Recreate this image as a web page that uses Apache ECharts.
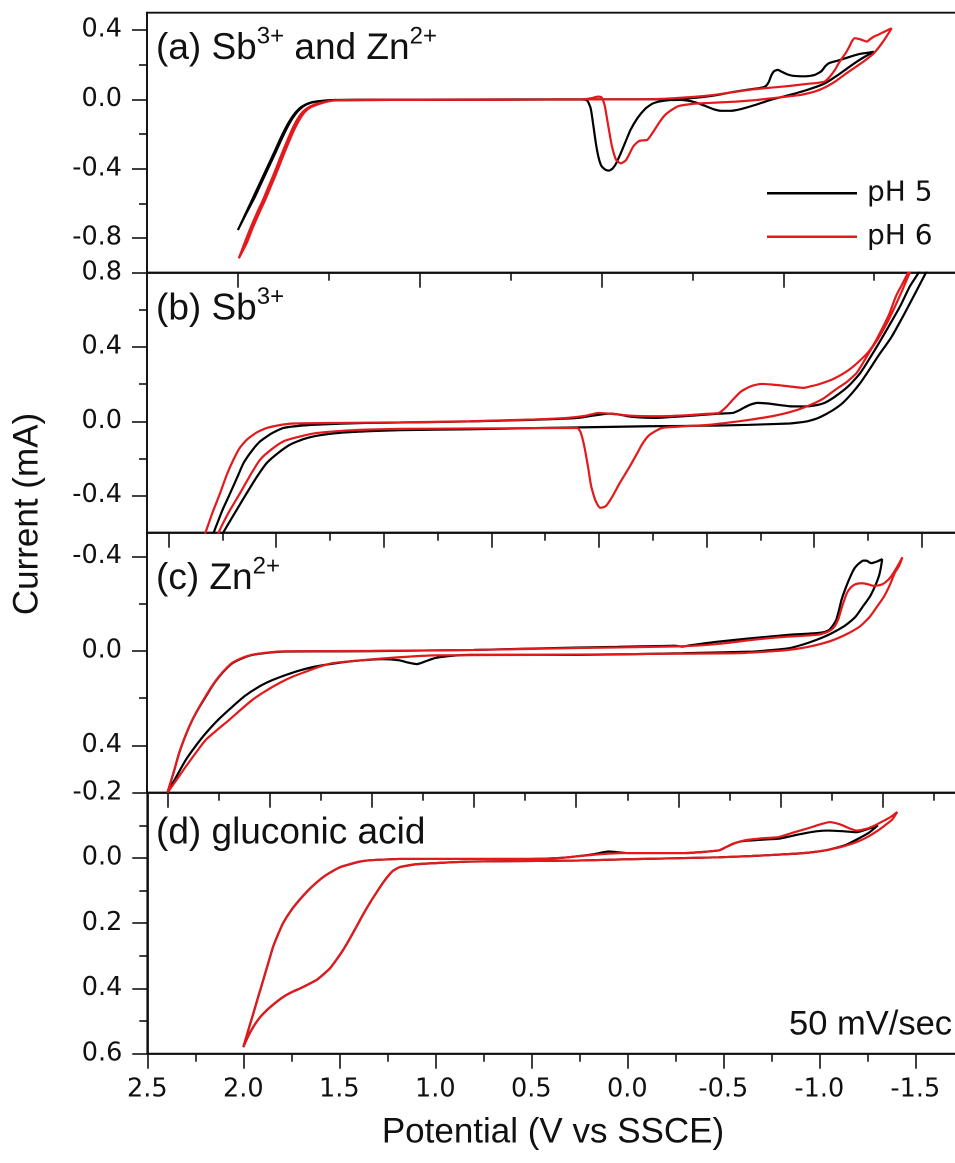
<!DOCTYPE html>
<html>
<head>
<meta charset="utf-8">
<title>Cyclic voltammograms</title>
<script src="https://cdn.jsdelivr.net/npm/echarts@6/dist/echarts.min.js"></script>
<style>
  html, body { margin: 0; padding: 0; background: #ffffff; }
  #chart { width: 955px; height: 1163px; }
</style>
</head>
<body>
<div id="chart"></div>
<script>
// ---- Cyclic voltammograms, potential in V vs SSCE, current in mA ----

// (a) Sb3+ and Zn2+
const cvA_pH5 = [
  [2.00,-0.754],[1.96,-0.665],[1.92,-0.575],[1.88,-0.485],[1.84,-0.395],[1.80,-0.305],[1.77,-0.235],[1.74,-0.170],
  [1.71,-0.115],[1.68,-0.072],[1.65,-0.043],[1.61,-0.022],[1.56,-0.011],[1.48,-0.006],[1.30,-0.004],[1.00,-0.003],
  [0.60,-0.002],[0.30,-0.001],[0.12,-0.001],[0.08,-0.006],[0.06,-0.05],[0.045,-0.15],[0.03,-0.26],[0.015,-0.34],
  [0.00,-0.385],[-0.02,-0.405],[-0.04,-0.411],[-0.06,-0.40],[-0.08,-0.37],[-0.10,-0.325],[-0.13,-0.25],[-0.16,-0.175],
  [-0.20,-0.105],[-0.24,-0.055],[-0.28,-0.025],[-0.32,-0.012],[-0.38,-0.004],[-0.43,-0.003],[-0.48,-0.008],[-0.53,-0.022],
  [-0.58,-0.042],[-0.62,-0.058],[-0.66,-0.066],[-0.71,-0.066],[-0.77,-0.055],[-0.84,-0.034],[-0.93,-0.003],[-1.03,0.024],
  [-1.13,0.054],[-1.23,0.093],[-1.30,0.140],[-1.36,0.185],[-1.42,0.228],[-1.46,0.253],[-1.498,0.275],
  [-1.47,0.270],[-1.42,0.262],[-1.37,0.247],[-1.32,0.230],[-1.28,0.218],[-1.25,0.208],[-1.23,0.19],[-1.21,0.163],
  [-1.17,0.14],[-1.12,0.133],[-1.06,0.135],[-1.02,0.145],[-0.99,0.16],[-0.97,0.17],[-0.95,0.163],[-0.935,0.14],
  [-0.92,0.10],[-0.905,0.078],[-0.88,0.067],[-0.80,0.055],[-0.72,0.042],[-0.64,0.026],[-0.56,0.014],[-0.48,0.006],
  [-0.38,0.002],[-0.20,0.000],[0.10,0.000],[0.50,0.000],[1.00,-0.001],[1.35,-0.002],[1.49,-0.004],[1.55,-0.010],
  [1.60,-0.020],[1.64,-0.040],[1.67,-0.068],[1.70,-0.110],[1.73,-0.165],[1.76,-0.23],[1.79,-0.30],[1.83,-0.39],
  [1.87,-0.48],[1.91,-0.57],[1.955,-0.66],[2.00,-0.754]
];
const cvA_pH6 = [
  [1.995,-0.917],[1.962,-0.825],[1.93,-0.74],[1.895,-0.655],[1.862,-0.58],[1.83,-0.50],[1.80,-0.425],[1.775,-0.358],
  [1.75,-0.292],[1.722,-0.222],[1.697,-0.162],[1.67,-0.11],[1.642,-0.071],[1.61,-0.045],[1.569,-0.027],[1.52,-0.014],
  [1.477,-0.007],[1.30,-0.004],[1.00,-0.003],[0.60,-0.002],[0.30,-0.001],[0.10,0.000],[0.05,0.008],[0.02,0.016],
  [0.00,0.012],[-0.01,-0.01],[-0.019,-0.042],[-0.038,-0.158],[-0.058,-0.273],[-0.081,-0.35],[-0.106,-0.369],[-0.135,-0.35],
  [-0.174,-0.273],[-0.20,-0.245],[-0.213,-0.238],[-0.24,-0.236],[-0.252,-0.234],[-0.27,-0.21],[-0.291,-0.177],[-0.32,-0.13],
  [-0.35,-0.09],[-0.39,-0.058],[-0.427,-0.038],[-0.50,-0.026],[-0.545,-0.023],[-0.64,-0.018],[-0.739,-0.013],[-0.85,-0.004],
  [-0.934,0.006],[-1.01,0.015],[-1.09,0.025],[-1.14,0.036],[-1.187,0.05],[-1.24,0.075],[-1.284,0.102],[-1.34,0.145],
  [-1.401,0.189],[-1.45,0.225],[-1.498,0.266],[-1.55,0.335],[-1.596,0.41],
  [-1.557,0.391],[-1.52,0.372],[-1.498,0.362],[-1.475,0.345],[-1.46,0.333],[-1.44,0.34],[-1.421,0.347],[-1.392,0.353],
  [-1.375,0.33],[-1.363,0.304],[-1.345,0.27],[-1.323,0.237],[-1.30,0.20],[-1.284,0.17],[-1.255,0.13],[-1.226,0.102],
  [-1.18,0.094],[-1.128,0.089],[-1.031,0.077],[-0.937,0.068],[-0.837,0.058],[-0.74,0.044],[-0.642,0.029],[-0.55,0.018],
  [-0.447,0.01],[-0.35,0.004],[-0.252,0.000],[0.00,0.000],[0.50,-0.001],[1.00,-0.002],[1.35,-0.003],[1.465,-0.006],
  [1.51,-0.013],[1.555,-0.027],[1.60,-0.046],[1.63,-0.071],[1.657,-0.11],[1.684,-0.162],[1.71,-0.222],[1.738,-0.292],
  [1.763,-0.358],[1.788,-0.425],[1.818,-0.50],[1.85,-0.58],[1.883,-0.655],[1.918,-0.74],[1.95,-0.825],[1.995,-0.917]
];

// (b) Sb3+
const cvB_pH5 = [
  [1.845,-0.75],[1.791,-0.601],[1.75,-0.48],[1.713,-0.386],[1.68,-0.30],[1.651,-0.224],[1.61,-0.155],[1.574,-0.108],
  [1.52,-0.065],[1.466,-0.036],[1.39,-0.024],[1.31,-0.018],[1.20,-0.013],[1.078,-0.009],[0.923,-0.007],[0.60,-0.001],
  [0.30,0.008],[0.20,0.012],[0.10,0.018],[0.03,0.03],[-0.047,0.041],[-0.10,0.035],[-0.14,0.026],[-0.20,0.02],
  [-0.26,0.018],[-0.39,0.027],[-0.48,0.034],[-0.557,0.041],[-0.623,0.045],[-0.65,0.058],[-0.672,0.072],[-0.70,0.088],
  [-0.738,0.099],[-0.77,0.097],[-0.804,0.093],[-0.886,0.081],[-0.95,0.08],[-1.001,0.085],[-1.05,0.10],[-1.10,0.135],
  [-1.16,0.19],[-1.215,0.261],[-1.28,0.38],[-1.347,0.512],[-1.40,0.62],[-1.445,0.727],[-1.487,0.802],[-1.54,0.90],
  [-1.565,0.90],[-1.519,0.799],[-1.47,0.69],[-1.413,0.565],[-1.36,0.455],[-1.297,0.35],[-1.255,0.275],[-1.215,0.207],
  [-1.175,0.15],[-1.133,0.099],[-1.09,0.062],[-1.051,0.036],[-1.01,0.014],[-0.968,0.000],[-0.92,-0.008],[-0.886,-0.012],
  [-0.70,-0.019],[-0.557,-0.023],[-0.228,-0.027],[0.265,-0.036],[0.60,-0.043],[0.923,-0.048],[1.078,-0.054],[1.20,-0.062],
  [1.295,-0.075],[1.37,-0.095],[1.434,-0.125],[1.49,-0.17],[1.543,-0.224],[1.59,-0.30],[1.636,-0.386],[1.69,-0.49],
  [1.747,-0.601],[1.824,-0.75]
];
const cvB_pH6 = [
  [1.877,-0.75],[1.829,-0.601],[1.795,-0.49],[1.76,-0.386],[1.73,-0.29],[1.698,-0.206],[1.67,-0.145],[1.636,-0.099],
  [1.59,-0.06],[1.543,-0.036],[1.48,-0.02],[1.419,-0.012],[1.233,-0.009],[0.923,-0.006],[0.60,0.000],[0.30,0.01],
  [0.15,0.018],[0.06,0.03],[0.002,0.045],[-0.06,0.04],[-0.15,0.03],[-0.261,0.027],[-0.40,0.032],[-0.50,0.04],
  [-0.557,0.045],[-0.59,0.075],[-0.623,0.117],[-0.66,0.16],[-0.705,0.188],[-0.754,0.201],[-0.80,0.198],[-0.853,0.192],
  [-0.952,0.18],[-0.99,0.19],[-1.018,0.198],[-1.084,0.225],[-1.14,0.26],[-1.183,0.296],[-1.248,0.368],[-1.28,0.42],
  [-1.314,0.494],[-1.35,0.58],[-1.38,0.673],[-1.41,0.74],[-1.437,0.802],[-1.485,0.92],
  [-1.49,0.92],[-1.445,0.802],[-1.40,0.68],[-1.347,0.548],[-1.30,0.45],[-1.264,0.386],[-1.23,0.32],[-1.198,0.261],
  [-1.15,0.21],[-1.10,0.171],[-1.04,0.12],[-0.968,0.081],[-0.89,0.05],[-0.804,0.027],[-0.70,0.008],[-0.59,-0.009],
  [-0.50,-0.02],[-0.393,-0.027],[-0.33,-0.032],[-0.294,-0.036],[-0.26,-0.055],[-0.228,-0.081],[-0.20,-0.125],[-0.179,-0.17],
  [-0.14,-0.25],[-0.097,-0.332],[-0.06,-0.41],[-0.031,-0.458],[-0.006,-0.466],[0.015,-0.43],[0.036,-0.35],[0.05,-0.25],
  [0.068,-0.135],[0.085,-0.06],[0.101,-0.036],[0.30,-0.037],[0.60,-0.039],[0.923,-0.041],[1.078,-0.045],[1.20,-0.052],
  [1.31,-0.063],[1.40,-0.085],[1.466,-0.108],[1.52,-0.15],[1.574,-0.206],[1.62,-0.29],[1.667,-0.386],[1.72,-0.49],
  [1.768,-0.601],[1.82,-0.75]
];

// (c) Zn2+
const cvC_pH5 = [
  [2.00,0.60],[1.97,0.515],[1.943,0.433],[1.91,0.355],[1.878,0.292],[1.845,0.24],[1.812,0.193],[1.78,0.148],
  [1.747,0.109],[1.715,0.078],[1.682,0.052],[1.63,0.03],[1.584,0.017],[1.51,0.008],[1.437,0.003],[1.20,0.002],
  [1.00,0.001],[0.50,-0.004],[0.00,-0.014],[-0.20,-0.017],[-0.432,-0.021],[-0.48,-0.022],[-0.519,-0.018],[-0.56,-0.024],
  [-0.692,-0.039],[-0.865,-0.054],[-1.039,-0.068],[-1.12,-0.072],[-1.177,-0.075],[-1.215,-0.08],[-1.238,-0.089],[-1.258,-0.11],
  [-1.272,-0.131],[-1.285,-0.17],[-1.298,-0.216],[-1.32,-0.27],[-1.341,-0.314],[-1.362,-0.35],[-1.385,-0.371],[-1.405,-0.382],
  [-1.42,-0.382],[-1.435,-0.374],[-1.446,-0.371],[-1.46,-0.375],[-1.472,-0.378],[-1.497,-0.388],
  [-1.49,-0.35],[-1.48,-0.314],[-1.46,-0.27],[-1.437,-0.23],[-1.40,-0.185],[-1.367,-0.145],[-1.32,-0.11],[-1.281,-0.089],
  [-1.23,-0.066],[-1.177,-0.047],[-1.11,-0.027],[-1.039,-0.011],[-0.95,-0.003],[-0.865,0.003],[-0.519,0.01],[0.00,0.017],
  [0.52,0.017],[0.62,0.022],[0.693,0.031],[0.74,0.045],[0.78,0.056],[0.82,0.05],[0.866,0.04],[0.948,0.035],
  [1.111,0.045],[1.274,0.066],[1.35,0.082],[1.421,0.102],[1.49,0.125],[1.551,0.151],[1.62,0.19],[1.682,0.236],
  [1.75,0.29],[1.812,0.348],[1.86,0.40],[1.91,0.461],[1.955,0.53],[2.00,0.60]
];
const cvC_pH6 = [
  [2.00,0.60],[1.97,0.515],[1.943,0.433],[1.91,0.355],[1.878,0.292],[1.845,0.238],[1.812,0.19],[1.78,0.146],
  [1.747,0.107],[1.715,0.076],[1.682,0.05],[1.63,0.028],[1.584,0.016],[1.51,0.007],[1.437,0.002],[1.20,0.001],
  [1.00,0.000],[0.50,-0.004],[0.00,-0.012],[-0.50,-0.019],[-0.70,-0.03],[-0.865,-0.047],[-1.00,-0.058],[-1.177,-0.068],
  [-1.22,-0.077],[-1.247,-0.089],[-1.265,-0.105],[-1.281,-0.131],[-1.30,-0.185],[-1.324,-0.244],[-1.34,-0.265],[-1.359,-0.279],
  [-1.38,-0.285],[-1.402,-0.286],[-1.43,-0.281],[-1.454,-0.275],[-1.47,-0.276],[-1.489,-0.279],[-1.51,-0.288],[-1.54,-0.314],
  [-1.57,-0.355],[-1.596,-0.396],
  [-1.58,-0.36],[-1.558,-0.329],[-1.535,-0.28],[-1.506,-0.23],[-1.47,-0.185],[-1.437,-0.145],[-1.39,-0.105],[-1.333,-0.075],
  [-1.27,-0.05],[-1.212,-0.033],[-1.13,-0.016],[-1.039,-0.004],[-0.90,0.005],[-0.779,0.01],[-0.346,0.013],[0.174,0.017],
  [0.693,0.019],[0.866,0.027],[1.029,0.038],[1.193,0.052],[1.26,0.068],[1.323,0.088],[1.39,0.11],[1.454,0.137],
  [1.52,0.17],[1.584,0.207],[1.64,0.248],[1.698,0.292],[1.755,0.333],[1.812,0.376],[1.86,0.43],[1.91,0.489],
  [1.955,0.545],[2.00,0.60]
];

// (d) gluconic acid
const cvD_pH5 = [
  [2.00,0.58],[1.975,0.53],[1.948,0.477],[1.922,0.425],[1.896,0.374],[1.87,0.322],[1.844,0.271],[1.818,0.233],
  [1.792,0.199],[1.75,0.16],[1.705,0.127],[1.66,0.098],[1.618,0.075],[1.575,0.055],[1.531,0.039],[1.49,0.027],
  [1.444,0.019],[1.40,0.012],[1.357,0.008],[1.27,0.005],[1.184,0.003],[0.80,0.003],[0.502,0.003],[0.35,0.000],
  [0.262,-0.005],[0.17,-0.012],[0.12,-0.018],[0.096,-0.02],[0.06,-0.018],[0.004,-0.015],[-0.291,-0.015],[-0.476,-0.023],
  [-0.51,-0.032],[-0.549,-0.043],[-0.585,-0.05],[-0.623,-0.053],[-0.70,-0.056],[-0.789,-0.059],[-0.86,-0.068],[-0.936,-0.077],
  [-0.99,-0.082],[-1.047,-0.084],[-1.12,-0.082],[-1.194,-0.079],[-1.25,-0.088],[-1.305,-0.10],
  [-1.26,-0.078],[-1.20,-0.058],[-1.139,-0.04],[-1.08,-0.03],[-1.029,-0.023],[-0.94,-0.016],[-0.844,-0.012],[-0.65,-0.006],
  [-0.476,-0.002],[0.00,0.004],[0.262,0.008],[0.815,0.011],[1.092,0.019],[1.184,0.028],[1.219,0.039],[1.245,0.055],
  [1.271,0.075],[1.305,0.105],[1.34,0.137],[1.375,0.172],[1.409,0.209],[1.445,0.247],[1.479,0.281],[1.515,0.312],
  [1.548,0.338],[1.585,0.358],[1.618,0.374],[1.66,0.387],[1.705,0.40],[1.75,0.412],[1.792,0.426],[1.835,0.445],
  [1.878,0.467],[1.915,0.49],[1.948,0.518],[1.975,0.547],[2.00,0.58]
];
const cvD_pH6 = [
  [2.00,0.58],[1.975,0.53],[1.948,0.477],[1.922,0.425],[1.896,0.374],[1.87,0.322],[1.844,0.271],[1.818,0.233],
  [1.792,0.199],[1.75,0.16],[1.705,0.127],[1.66,0.098],[1.618,0.075],[1.575,0.055],[1.531,0.039],[1.49,0.027],
  [1.444,0.019],[1.40,0.012],[1.357,0.008],[1.27,0.005],[1.184,0.003],[0.80,0.003],[0.502,0.003],[0.35,0.000],
  [0.262,-0.005],[0.17,-0.010],[0.10,-0.013],[0.004,-0.015],[-0.291,-0.015],[-0.476,-0.023],[-0.51,-0.032],[-0.549,-0.043],
  [-0.585,-0.05],[-0.623,-0.055],[-0.70,-0.06],[-0.789,-0.064],[-0.86,-0.077],[-0.936,-0.09],[-1.00,-0.102],[-1.056,-0.11],
  [-1.09,-0.106],[-1.121,-0.10],[-1.16,-0.09],[-1.194,-0.084],[-1.25,-0.09],[-1.29,-0.10],[-1.323,-0.11],[-1.37,-0.125],
  [-1.406,-0.141],
  [-1.38,-0.118],[-1.342,-0.10],[-1.30,-0.082],[-1.25,-0.064],[-1.20,-0.05],[-1.139,-0.038],[-1.08,-0.029],[-1.029,-0.023],
  [-0.94,-0.016],[-0.844,-0.012],[-0.65,-0.006],[-0.476,-0.002],[0.00,0.004],[0.262,0.008],[0.815,0.011],[1.092,0.019],
  [1.184,0.028],[1.219,0.039],[1.245,0.055],[1.271,0.075],[1.305,0.105],[1.34,0.137],[1.375,0.172],[1.409,0.209],
  [1.445,0.247],[1.479,0.281],[1.515,0.312],[1.548,0.338],[1.585,0.358],[1.618,0.374],[1.66,0.387],[1.705,0.40],
  [1.75,0.412],[1.792,0.426],[1.835,0.445],[1.878,0.467],[1.915,0.49],[1.948,0.518],[1.975,0.547],[2.00,0.58]
];

// ---- tick values (labelled ticks and unlabelled minor ticks) ----
const yTicksA = [0.4, 0.0, -0.4, -0.8];
const yMinorA = [0.2, -0.2, -0.6];
const yTicksB = [0.8, 0.4, 0.0, -0.4];
const yMinorB = [0.6, 0.2, -0.2];
const yTicksC = [-0.4, 0.0, 0.4];
const yMinorC = [-0.2, 0.2];
const yTicksD = [-0.2, 0.0, 0.2, 0.4, 0.6];
const yMinorD = [-0.1, 0.1, 0.3, 0.5];

const xTicksA = [2.0, 1.0, 0.0, -1.0];
const xMinorA = [1.5, 0.5, -0.5, -1.5];
const xTicksB = [2.0, 1.5, 1.0, 0.5, 0.0, -0.5, -1.0, -1.5];
const xMinorB = [1.75, 1.25, 0.75, 0.25, -0.25, -0.75, -1.25];
const xTicksC = [2.0, 1.5, 1.0, 0.5, 0.0, -0.5, -1.0, -1.5];
const xMinorC = [1.75, 1.25, 0.75, 0.25, -0.25, -0.75, -1.25, -1.75];
const xTicksD = [2.5, 2.0, 1.5, 1.0, 0.5, 0.0, -0.5, -1.0, -1.5];
const xMinorD = [2.25, 1.75, 1.25, 0.75, 0.25, -0.25, -0.75, -1.25];

const seriesNames = ['pH 5', 'pH 6'];
const panelTitles = [
  '{m|(a) Sb}{s|3+}{m| and Zn}{s|2+}',
  '{m|(b) Sb}{s|3+}',
  '{m|(c) Zn}{s|2+}',
  '{m|(d) gluconic acid}'
];
const scanRateText = '50 mV/sec';
const xAxisTitle = 'Potential (V vs SSCE)';
const yAxisTitle = 'Current (mA)';

// ---- layout and styling ----
const FONT = '"Liberation Sans", Arial, Helvetica, sans-serif';
const TICK_FONT = '"DejaVu Sans", "Liberation Sans", Arial, sans-serif';
const INK = '#111111';
const COLORS = ['#000000', '#e3191c'];

const panels = [
  { left: 147, top: 12.7,  width: 818.1, height: 260,   xMin: -2.0, xMax: 2.5, yMin: -1.0, yMax: 0.5, inv: false,
    xT: xTicksA, xM: xMinorA, yT: yTicksA, yM: yMinorA, data: [cvA_pH5, cvA_pH6], titleY: 48.9 },
  { left: 147, top: 272.7, width: 839.3, height: 260,   xMin: -1.8, xMax: 2.1, yMin: -0.6, yMax: 0.8, inv: false,
    xT: xTicksB, xM: xMinorB, yT: yTicksB, yM: yMinorB, data: [cvB_pH5, cvB_pH6], titleY: 309.2 },
  { left: 147, top: 532.7, width: 838.0, height: 260,   xMin: -2.0, xMax: 2.1, yMin: -0.5, yMax: 0.6, inv: true,
    xT: xTicksC, xM: xMinorC, yT: yTicksC, yM: yMinorC, data: [cvC_pH5, cvC_pH6], titleY: 578.9 },
  { left: 147.3, top: 792.7, width: 825.6, height: 261, xMin: -1.8, xMax: 2.5, yMin: -0.2, yMax: 0.6, inv: true,
    xT: xTicksD, xM: xMinorD, yT: yTicksD, yM: yMinorD, data: [cvD_pH5, cvD_pH6], titleY: 833.2 }
];

const fmt = v => (Math.abs(v) < 1e-9 ? 0 : v).toFixed(1);
const lineStyle = { color: INK, width: 1.8 };
const tickStyle = { color: INK, width: 1.6 };

const grid = [], xAxis = [], yAxis = [], series = [], graphic = [];

panels.forEach((p, i) => {
  const rect = { left: p.left, top: p.top, width: p.width, height: p.height, outerBoundsMode: 'none', containLabel: false };
  grid[i] = Object.assign({ show: true, borderColor: INK, borderWidth: 1.8, backgroundColor: 'transparent' }, rect);
  grid[i + 4] = Object.assign({ show: false }, rect);

  // main axes: frame lines, long ticks and labels
  xAxis[i] = {
    type: 'value', gridIndex: i, min: p.xMin, max: p.xMax, inverse: true, position: 'bottom',
    axisLine: { show: true, onZero: false, lineStyle },
    axisTick: { show: true, inside: false, length: 15, customValues: p.xT, lineStyle: tickStyle },
    axisLabel: { show: i === 3, customValues: p.xT, formatter: fmt, margin: 23, fontSize: 25.5,
                 fontFamily: TICK_FONT, color: INK, showMinLabel: true, showMaxLabel: true },
    splitLine: { show: false }
  };
  yAxis[i] = {
    type: 'value', gridIndex: i, min: p.yMin, max: p.yMax, inverse: p.inv, position: 'left',
    axisLine: { show: true, onZero: false, lineStyle },
    axisTick: { show: true, inside: false, length: 15, customValues: p.yT, lineStyle: tickStyle },
    axisLabel: { show: true, customValues: p.yT, formatter: fmt, margin: 25, fontSize: 25.5,
                 fontFamily: TICK_FONT, color: INK, showMinLabel: true, showMaxLabel: true },
    splitLine: { show: false }
  };
  // overlay axes: short minor ticks only
  xAxis[i + 4] = {
    type: 'value', gridIndex: i + 4, min: p.xMin, max: p.xMax, inverse: true, position: 'bottom',
    axisLine: { show: false, onZero: false },
    axisTick: { show: true, inside: false, length: 8, customValues: p.xM, lineStyle: tickStyle },
    axisLabel: { show: false }, splitLine: { show: false }
  };
  yAxis[i + 4] = {
    type: 'value', gridIndex: i + 4, min: p.yMin, max: p.yMax, inverse: p.inv, position: 'left',
    axisLine: { show: false, onZero: false },
    axisTick: { show: true, inside: false, length: 8, customValues: p.yM, lineStyle: tickStyle },
    axisLabel: { show: false }, splitLine: { show: false }
  };

  p.data.forEach((d, k) => {
    series.push({
      type: 'line', name: seriesNames[k], xAxisIndex: i, yAxisIndex: i, data: d,
      showSymbol: false, symbol: 'none', smooth: 0.2, clip: true,
      lineStyle: { color: COLORS[k], width: 2.2 }, itemStyle: { color: COLORS[k] },
      z: 3 + k, silent: true
    });
  });

  graphic.push({
    type: 'text', x: 156, y: p.titleY, silent: true,
    style: {
      text: panelTitles[i], fill: INK, align: 'left', verticalAlign: 'middle',
      textAlign: 'left', textVerticalAlign: 'middle',
      rich: {
        m: { fontSize: 37, fontFamily: FONT, lineHeight: 48, fill: INK, color: INK },
        s: { fontSize: 24, fontFamily: FONT, lineHeight: 24, fill: INK, color: INK, verticalAlign: 'top' }
      }
    }
  });
});

graphic.push({
  type: 'text', x: 952, y: 1025, silent: true,
  style: { text: scanRateText, fontSize: 34.5, fontFamily: FONT, fill: INK,
           align: 'right', verticalAlign: 'middle', textAlign: 'right', textVerticalAlign: 'middle' }
});
graphic.push({
  type: 'text', x: 553, y: 1133, silent: true,
  style: { text: xAxisTitle, fontSize: 35, fontFamily: FONT, fill: INK,
           align: 'center', verticalAlign: 'middle', textAlign: 'center', textVerticalAlign: 'middle' }
});
graphic.push({
  type: 'text', x: 28, y: 514, rotation: Math.PI / 2, silent: true,
  style: { text: yAxisTitle, fontSize: 35, fontFamily: FONT, fill: INK,
           align: 'center', verticalAlign: 'middle', textAlign: 'center', textVerticalAlign: 'middle' }
});

const chart = echarts.init(document.getElementById('chart'), null, { renderer: 'canvas', devicePixelRatio: 2 });
chart.setOption({
  animation: false,
  backgroundColor: '#ffffff',
  grid, xAxis, yAxis, series, graphic,
  legend: {
    data: seriesNames, orient: 'vertical', left: 762, top: 173.3, padding: 5,
    itemWidth: 90, itemHeight: 2.5, icon: 'rect', itemGap: 13.4, selectedMode: false,
    textStyle: { fontSize: 28, fontFamily: TICK_FONT, color: INK, lineHeight: 30, padding: [0, 0, 0, 5] }
  }
});
</script>
</body>
</html>
